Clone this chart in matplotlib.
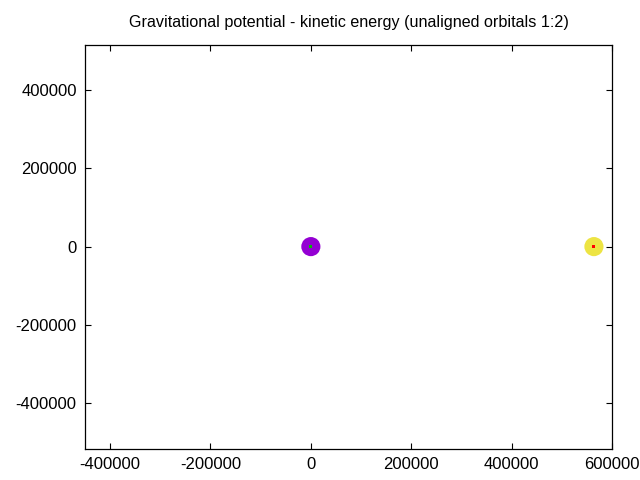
import matplotlib
matplotlib.use("Agg")
import matplotlib.pyplot as plt

plt.rcParams["font.family"] = ["Liberation Sans", "DejaVu Sans"]

# bodies: position, fill colour, centre colour
body_x = [0, 564000]
body_y = [0, 0]
body_colors = ["#9400d3", "#ede443"]
center_colors = ["#00c000", "#ff0000"]

xticks = [-400000, -200000, 0, 200000, 400000, 600000]
yticks = [-400000, -200000, 0, 200000, 400000]

fig = plt.figure(figsize=(6.4, 4.8), dpi=100)
ax = fig.add_axes([85 / 640, 31 / 480, 527 / 640, 404 / 480])

ax.scatter(body_x, body_y, s=190, c=body_colors, marker="o", linewidths=0, zorder=2)
ax.scatter(body_x, body_y, s=5, c=center_colors, marker="s", linewidths=0, zorder=3)

ax.set_xlim(-450000, 600000)
ax.set_ylim(-518000, 516000)
ax.set_xticks(xticks)
ax.set_yticks(yticks)
ax.set_xticklabels([str(v) for v in xticks])
ax.set_yticklabels([str(v) for v in yticks])
ax.tick_params(direction="in", length=4.5, width=0.8, top=True, right=True,
               labelsize=12, pad=6, colors="black")
for spine in ax.spines.values():
    spine.set_linewidth(0.9)

fig.text((85 + 612) / 2 / 640, 1 - 22 / 480,
         "Gravitational potential - kinetic energy (unaligned orbitals 1:2)",
         ha="center", va="center", fontsize=11.6)

fig.savefig("out.png", dpi=100)
